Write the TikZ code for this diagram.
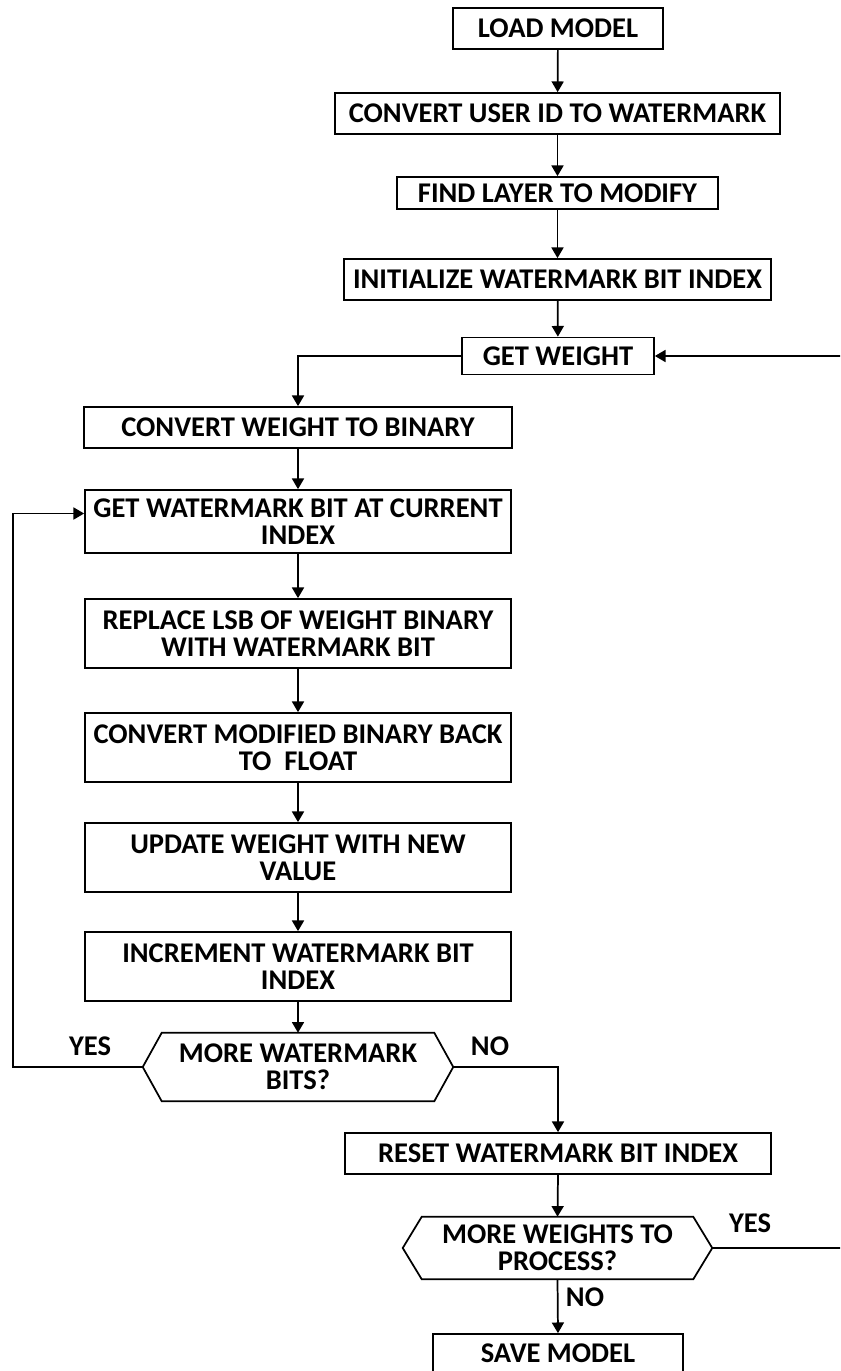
\documentclass[tikz,border=0pt]{standalone}
\usepackage{fontspec}
\newfontfamily\flowfont{Carlito}
\usetikzlibrary{arrows.meta,calc}

\tikzset{
  ln/.style={line width=1.3pt, draw=black},
  arr/.style={ln, -{Triangle[width=9pt,length=8pt]}},
  txt/.style={font=\flowfont\bfseries\fontsize{21.4}{20.5}\selectfont},
  box/.style 2 args={draw, line width=1.3pt, inner sep=0pt, align=center, txt,
    minimum width=#1*0.75pt, minimum height=#2*0.75pt},
  hexbox/.style 2 args={inner sep=0pt, align=center, txt,
    minimum width=#1*0.75pt, minimum height=#2*0.75pt},
  lbl/.style={txt, inner sep=0pt}
}

\begin{document}
\begin{tikzpicture}[x=0.75pt, y=-0.75pt]
\useasboundingbox (0,0) rectangle (840,1371);
\clip (0,0) rectangle (840,1371);

% main column of process boxes
\node[box={210}{41}]  (load)  at (558,28.5)   {LOAD MODEL};
\node[box={445}{41}]  (uid)   at (557.5,113.5) {CONVERT USER ID TO WATERMARK};
\node[box={321}{32}]  (layer) at (557.5,193)  {FIND LAYER TO MODIFY};
\node[box={427}{41}]  (init)  at (557.5,279.5) {INITIALIZE WATERMARK BIT INDEX};
\node[box={192}{37}]  (getw)  at (558,356)    {GET WEIGHT};

% inner loop column
\node[box={428}{41}]  (tobin) at (298,427.5)  {CONVERT WEIGHT TO BINARY};
\node[box={426}{63}]  (getb)  at (298,521.5)  {GET WATERMARK BIT AT CURRENT\\INDEX};
\node[box={426}{69}]  (repl)  at (298,633.5)  {REPLACE LSB OF WEIGHT BINARY\\WITH WATERMARK BIT};
\node[box={426}{69}]  (back)  at (298,747.5)  {CONVERT MODIFIED BINARY BACK\\TO~~FLOAT};
\node[box={426}{69}]  (upd)   at (298,857.5)  {UPDATE WEIGHT WITH NEW\\VALUE};
\node[box={426}{69}]  (inc)   at (298,966.5)  {INCREMENT WATERMARK BIT\\INDEX};

% first decision
\node[hexbox={310}{68}] (more) at (298,1067) {MORE WATERMARK\\BITS?};
\draw[ln] (more.west) -- ($(more.north west)+(19,0)$) -- ($(more.north east)+(-19,0)$)
  -- (more.east) -- ($(more.south east)+(-19,0)$) -- ($(more.south west)+(19,0)$) -- cycle;

% outer loop tail
\node[box={426}{41}]  (reset) at (558,1153.5) {RESET WATERMARK BIT INDEX};
\node[hexbox={309}{62}] (wts) at (557.5,1248) {MORE WEIGHTS TO\\PROCESS?};
\draw[ln] (wts.west) -- ($(wts.north west)+(19,0)$) -- ($(wts.north east)+(-19,0)$)
  -- (wts.east) -- ($(wts.south east)+(-19,0)$) -- ($(wts.south west)+(19,0)$) -- cycle;
\node[box={250}{38}]  (save)  at (558,1353)   {SAVE MODEL};

% branch labels
\node[lbl] (yes1) at (90,1046)  {YES};
\node[lbl] (no1)  at (490,1046) {NO};
\node[lbl] (yes2) at (750,1223) {YES};
\node[lbl] (no2)  at (585,1297) {NO};

% straight connectors
\draw[arr] (load) -- (uid);
\draw[arr] (uid) -- (layer);
\draw[arr] (layer) -- (init);
\draw[arr] (init) -- (getw);
\draw[arr] (getw.west) -| (tobin.north);
\draw[arr] (tobin) -- (getb);
\draw[arr] (getb) -- (repl);
\draw[arr] (repl) -- (back);
\draw[arr] (back) -- (upd);
\draw[arr] (upd) -- (inc);
\draw[arr] (inc.south) -- (more.north);
\draw[arr] (more.east) -| (reset.north);
\draw[arr] (reset.south) -- (wts.north);
\draw[arr] (wts.south) -- (save.north);

% loop-back connectors
\coordinate (lx) at (12.7,1067);
\draw[arr] (more.west) -- (lx) |- ($(getb.west)+(0,-8)$);
\coordinate (rx) at (843,1248);
\draw[arr] (wts.east) -- (rx) |- (getw.east);
\end{tikzpicture}
\end{document}
